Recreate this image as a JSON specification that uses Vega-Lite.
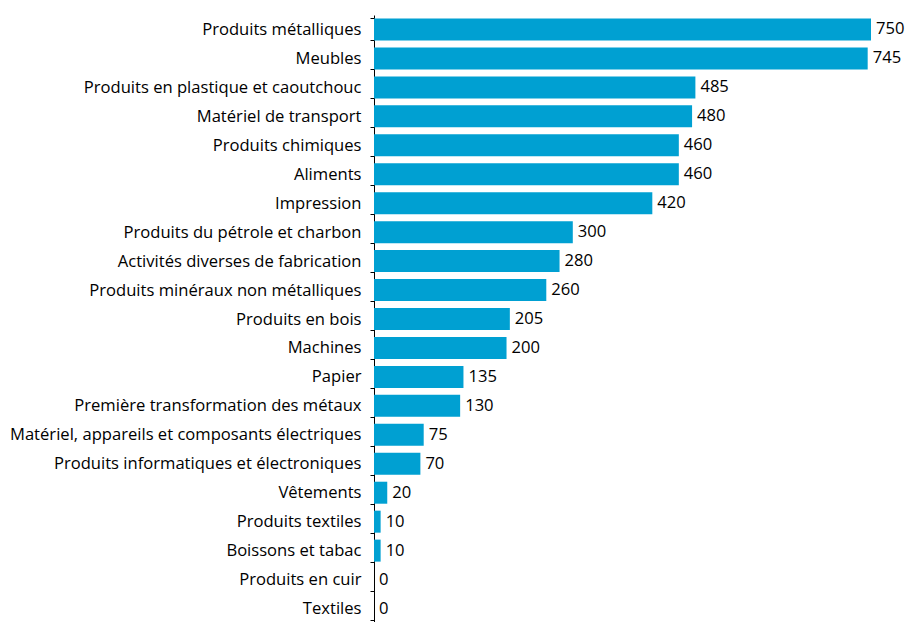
{
  "$schema": "https://vega.github.io/schema/vega-lite/v6.json",
  "width": 497,
  "height": 608,
  "autosize": {"type": "none"},
  "padding": {"left": 374, "top": 15, "right": 35, "bottom": 0},
  "background": "white",
  "config": {"view": {"stroke": null}, "font": "Open Sans"},
  "data": {"values": [
    {"cat": "Produits métalliques", "v": 750},
    {"cat": "Meubles", "v": 745},
    {"cat": "Produits en plastique et caoutchouc", "v": 485},
    {"cat": "Matériel de transport", "v": 480},
    {"cat": "Produits chimiques", "v": 460},
    {"cat": "Aliments", "v": 460},
    {"cat": "Impression", "v": 420},
    {"cat": "Produits du pétrole et charbon", "v": 300},
    {"cat": "Activités diverses de fabrication", "v": 280},
    {"cat": "Produits minéraux non métalliques", "v": 260},
    {"cat": "Produits en bois", "v": 205},
    {"cat": "Machines", "v": 200},
    {"cat": "Papier", "v": 135},
    {"cat": "Première transformation des métaux", "v": 130},
    {"cat": "Matériel, appareils et composants électriques", "v": 75},
    {"cat": "Produits informatiques et électroniques", "v": 70},
    {"cat": "Vêtements", "v": 20},
    {"cat": "Produits textiles", "v": 10},
    {"cat": "Boissons et tabac", "v": 10},
    {"cat": "Produits en cuir", "v": 0},
    {"cat": "Textiles", "v": 0}
  ]},
  "encoding": {
    "y": {"field": "cat", "type": "nominal", "sort": null, "title": null,
      "scale": {"paddingInner": 0.24, "paddingOuter": 0.12},
      "axis": {"bandPosition": 0, "tickBand": "extent", "domainColor": "#000", "tickColor": "#000", "tickSize": 4, "labelPadding": 9, "labelFontSize": 16.6, "labelColor": "#000", "labelFont": "Open Sans", "labelLimit": 400}},
    "x": {"field": "v", "type": "quantitative", "scale": {"domain": [0, 750]}, "axis": null}
  },
  "layer": [
    {"mark": {"type": "bar", "color": "#00A0D2"}},
    {"mark": {"type": "text", "align": "left", "dx": 5, "fontSize": 16.6, "color": "#000", "font": "Open Sans"}, "encoding": {"text": {"field": "v", "type": "quantitative"}}}
  ]
}
